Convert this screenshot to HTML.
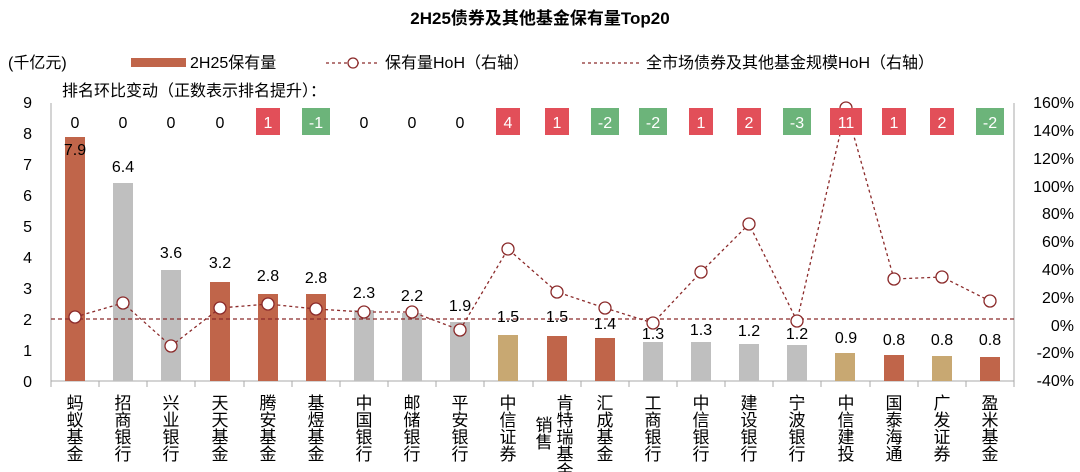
<!DOCTYPE html>
<html><head><meta charset="utf-8"><style>
body{margin:0;background:#fff;}
svg{display:block;font-family:"Liberation Sans","Noto Sans CJK SC",sans-serif;}
</style></head><body>
<svg width="1080" height="472" viewBox="0 0 1080 472">
<text x="540" y="24" text-anchor="middle" font-size="17" font-weight="bold" fill="#000">2H25债券及其他基金保有量Top20</text>
<text x="8" y="68" font-size="16" fill="#000">(千亿元)</text>
<rect x="131" y="58" width="55" height="9" fill="#C0654A"/>
<text x="190" y="68" font-size="16">2H25保有量</text>
<line x1="326" y1="63" x2="380" y2="63" stroke="#8B2A2A" stroke-width="1.3" stroke-dasharray="3,3"/>
<circle cx="353" cy="63" r="5" fill="#fff" stroke="#8B2A2A" stroke-width="1.3"/>
<text x="385" y="68" font-size="16">保有量HoH（右轴）</text>
<line x1="582" y1="63" x2="640" y2="63" stroke="#8B2A2A" stroke-width="1.3" stroke-dasharray="3,3"/>
<text x="646" y="68" font-size="16">全市场债券及其他基金规模HoH（右轴）</text>
<text x="62" y="96" font-size="16">排名环比变动（正数表示排名提升）：</text>

<g font-size="16" fill="#000" text-anchor="end">
<text x="32" y="108">9</text><text x="32" y="139">8</text><text x="32" y="170">7</text><text x="32" y="201">6</text><text x="32" y="232">5</text><text x="32" y="263">4</text><text x="32" y="294">3</text><text x="32" y="325">2</text><text x="32" y="356">1</text><text x="32" y="387">0</text>
</g>
<g font-size="16" fill="#000" text-anchor="end">
<text x="1074" y="108">160%</text><text x="1074" y="136">140%</text><text x="1074" y="164">120%</text><text x="1074" y="192">100%</text><text x="1074" y="219">80%</text><text x="1074" y="247">60%</text><text x="1074" y="275">40%</text><text x="1074" y="303">20%</text><text x="1074" y="331">0%</text><text x="1074" y="358">-20%</text><text x="1074" y="386">-40%</text>
</g>
<line x1="51" y1="103" x2="51" y2="381" stroke="#aaa"/>
<line x1="1014" y1="103" x2="1014" y2="381" stroke="#aaa"/>
<line x1="51" y1="381" x2="1014" y2="381" stroke="#aaa"/>
<g stroke="#aaa">
<line x1="51" y1="381" x2="51" y2="387"/><line x1="99" y1="381" x2="99" y2="387"/><line x1="147" y1="381" x2="147" y2="387"/><line x1="195" y1="381" x2="195" y2="387"/><line x1="244" y1="381" x2="244" y2="387"/><line x1="292" y1="381" x2="292" y2="387"/><line x1="340" y1="381" x2="340" y2="387"/><line x1="388" y1="381" x2="388" y2="387"/><line x1="436" y1="381" x2="436" y2="387"/><line x1="484" y1="381" x2="484" y2="387"/><line x1="533" y1="381" x2="533" y2="387"/><line x1="581" y1="381" x2="581" y2="387"/><line x1="629" y1="381" x2="629" y2="387"/><line x1="677" y1="381" x2="677" y2="387"/><line x1="725" y1="381" x2="725" y2="387"/><line x1="773" y1="381" x2="773" y2="387"/><line x1="821" y1="381" x2="821" y2="387"/><line x1="870" y1="381" x2="870" y2="387"/><line x1="918" y1="381" x2="918" y2="387"/><line x1="966" y1="381" x2="966" y2="387"/><line x1="1014" y1="381" x2="1014" y2="387"/>
</g>
<!-- bars -->
<rect x="65" y="137" width="20" height="244" fill="#C0654A"/>
<rect x="113" y="183" width="20" height="198" fill="#BFBFBF"/>
<rect x="161" y="270" width="20" height="111" fill="#BFBFBF"/>
<rect x="210" y="282" width="20" height="99" fill="#C0654A"/>
<rect x="258" y="294" width="20" height="87" fill="#C0654A"/>
<rect x="306" y="294" width="20" height="87" fill="#C0654A"/>
<rect x="354" y="310" width="20" height="71" fill="#BFBFBF"/>
<rect x="402" y="313" width="20" height="68" fill="#BFBFBF"/>
<rect x="450" y="322" width="20" height="59" fill="#BFBFBF"/>
<rect x="498" y="335" width="20" height="46" fill="#C8A872"/>
<rect x="547" y="336" width="20" height="45" fill="#C0654A"/>
<rect x="595" y="338" width="20" height="43" fill="#C0654A"/>
<rect x="643" y="342" width="20" height="39" fill="#BFBFBF"/>
<rect x="691" y="342" width="20" height="39" fill="#BFBFBF"/>
<rect x="739" y="344" width="20" height="37" fill="#BFBFBF"/>
<rect x="787" y="345" width="20" height="36" fill="#BFBFBF"/>
<rect x="835" y="353" width="20" height="28" fill="#C8A872"/>
<rect x="884" y="355" width="20" height="26" fill="#C0654A"/>
<rect x="932" y="356" width="20" height="25" fill="#C8A872"/>
<rect x="980" y="357" width="20" height="24" fill="#C0654A"/>
<line x1="51" y1="319" x2="1014" y2="319" stroke="#8B2A2A" stroke-width="1.2" stroke-dasharray="4,3"/>
<g font-size="16" text-anchor="middle" fill="#000">
<text x="75" y="155">7.9</text><text x="123" y="172">6.4</text><text x="171" y="258">3.6</text><text x="220" y="268">3.2</text><text x="268" y="281">2.8</text><text x="316" y="283">2.8</text><text x="364" y="298">2.3</text><text x="412" y="301">2.2</text><text x="460" y="311">1.9</text><text x="508" y="322">1.5</text><text x="557" y="322">1.5</text><text x="605" y="329">1.4</text><text x="653" y="339">1.3</text><text x="701" y="335">1.3</text><text x="749" y="336">1.2</text><text x="797" y="339">1.2</text><text x="846" y="343">0.9</text><text x="894" y="345">0.8</text><text x="942" y="345">0.8</text><text x="990" y="345">0.8</text>
</g>
<polyline fill="none" stroke="#8B2A2A" stroke-width="1.3" stroke-dasharray="3,3" points="75,317 123,303 171,346 220,308 268,304 316,309 364,312 412,312 460,330 508,249 557,292 605,308 653,323 701,272 749,224 797,321 846,108 894,279 942,277 990,301"/>
<g fill="#fff" stroke="#8B2A2A" stroke-width="1.3">
<circle cx="75" cy="317" r="6"/><circle cx="123" cy="303" r="6"/><circle cx="171" cy="346" r="6"/><circle cx="220" cy="308" r="6"/><circle cx="268" cy="304" r="6"/><circle cx="316" cy="309" r="6"/><circle cx="364" cy="312" r="6"/><circle cx="412" cy="312" r="6"/><circle cx="460" cy="330" r="6"/><circle cx="508" cy="249" r="6"/><circle cx="557" cy="292" r="6"/><circle cx="605" cy="308" r="6"/><circle cx="653" cy="323" r="6"/><circle cx="701" cy="272" r="6"/><circle cx="749" cy="224" r="6"/><circle cx="797" cy="321" r="6"/><circle cx="846" cy="108" r="6"/><circle cx="894" cy="279" r="6"/><circle cx="942" cy="277" r="6"/><circle cx="990" cy="301" r="6"/>
</g>
<g>
<rect x="256" y="108" width="24" height="27" fill="#E24F59"/>
<rect x="302" y="108" width="28" height="27" fill="#6CB47A"/>
<rect x="496" y="108" width="24" height="27" fill="#E24F59"/>
<rect x="545" y="108" width="24" height="27" fill="#E24F59"/>
<rect x="591" y="108" width="28" height="27" fill="#6CB47A"/>
<rect x="639" y="108" width="28" height="27" fill="#6CB47A"/>
<rect x="689" y="108" width="24" height="27" fill="#E24F59"/>
<rect x="737" y="108" width="24" height="27" fill="#E24F59"/>
<rect x="783" y="108" width="28" height="27" fill="#6CB47A"/>
<rect x="830" y="108" width="32" height="27" fill="#E24F59"/>
<rect x="882" y="108" width="24" height="27" fill="#E24F59"/>
<rect x="930" y="108" width="24" height="27" fill="#E24F59"/>
<rect x="976" y="108" width="28" height="27" fill="#6CB47A"/>
</g>
<g font-size="16" text-anchor="middle" fill="#000">
<text x="75" y="128">0</text><text x="123" y="128">0</text><text x="171" y="128">0</text><text x="220" y="128">0</text><text x="364" y="128">0</text><text x="412" y="128">0</text><text x="460" y="128">0</text>
</g>
<g font-size="16" text-anchor="middle" fill="#fff">
<text x="268" y="128">1</text><text x="316" y="128">-1</text><text x="508" y="128">4</text><text x="557" y="128">1</text><text x="605" y="128">-2</text><text x="653" y="128">-2</text><text x="701" y="128">1</text><text x="749" y="128">2</text><text x="797" y="128">-3</text><text x="846" y="128">11</text><text x="894" y="128">1</text><text x="942" y="128">2</text><text x="990" y="128">-2</text>
</g>
<g font-size="17" text-anchor="middle" fill="#000">
<text x="75" y="409">蚂</text><text x="75" y="426">蚁</text><text x="75" y="443">基</text><text x="75" y="460">金</text>
<text x="123" y="409">招</text><text x="123" y="426">商</text><text x="123" y="443">银</text><text x="123" y="460">行</text>
<text x="171" y="409">兴</text><text x="171" y="426">业</text><text x="171" y="443">银</text><text x="171" y="460">行</text>
<text x="220" y="409">天</text><text x="220" y="426">天</text><text x="220" y="443">基</text><text x="220" y="460">金</text>
<text x="268" y="409">腾</text><text x="268" y="426">安</text><text x="268" y="443">基</text><text x="268" y="460">金</text>
<text x="316" y="409">基</text><text x="316" y="426">煜</text><text x="316" y="443">基</text><text x="316" y="460">金</text>
<text x="364" y="409">中</text><text x="364" y="426">国</text><text x="364" y="443">银</text><text x="364" y="460">行</text>
<text x="412" y="409">邮</text><text x="412" y="426">储</text><text x="412" y="443">银</text><text x="412" y="460">行</text>
<text x="460" y="409">平</text><text x="460" y="426">安</text><text x="460" y="443">银</text><text x="460" y="460">行</text>
<text x="508" y="409">中</text><text x="508" y="426">信</text><text x="508" y="443">证</text><text x="508" y="460">券</text>
<text x="544" y="431">销</text><text x="544" y="448">售</text>
<text x="565" y="409">肯</text><text x="565" y="426">特</text><text x="565" y="443">瑞</text><text x="565" y="460">基</text><text x="565" y="477">金</text>
<text x="605" y="409">汇</text><text x="605" y="426">成</text><text x="605" y="443">基</text><text x="605" y="460">金</text>
<text x="653" y="409">工</text><text x="653" y="426">商</text><text x="653" y="443">银</text><text x="653" y="460">行</text>
<text x="701" y="409">中</text><text x="701" y="426">信</text><text x="701" y="443">银</text><text x="701" y="460">行</text>
<text x="749" y="409">建</text><text x="749" y="426">设</text><text x="749" y="443">银</text><text x="749" y="460">行</text>
<text x="797" y="409">宁</text><text x="797" y="426">波</text><text x="797" y="443">银</text><text x="797" y="460">行</text>
<text x="846" y="409">中</text><text x="846" y="426">信</text><text x="846" y="443">建</text><text x="846" y="460">投</text>
<text x="894" y="409">国</text><text x="894" y="426">泰</text><text x="894" y="443">海</text><text x="894" y="460">通</text>
<text x="942" y="409">广</text><text x="942" y="426">发</text><text x="942" y="443">证</text><text x="942" y="460">券</text>
<text x="990" y="409">盈</text><text x="990" y="426">米</text><text x="990" y="443">基</text><text x="990" y="460">金</text>
</g>
</svg>
</body></html>
